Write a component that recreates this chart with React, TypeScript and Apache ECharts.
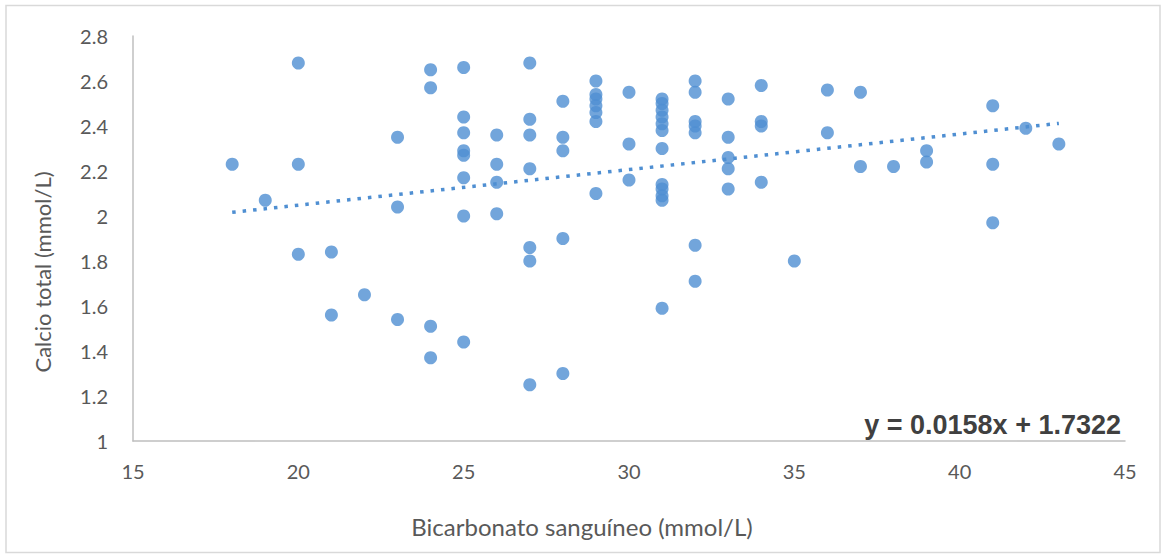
import React, { useEffect, useRef } from "react";
import * as echarts from "echarts";

// Bicarbonato sanguíneo (mmol/L) for each patient
const bicarbonate: number[] = [
  18, 19, 20, 20, 20, 21, 21, 22, 23, 23, 23,
  24, 24, 24, 24,
  25, 25, 25, 25, 25, 25, 25, 25,
  26, 26, 26, 26,
  27, 27, 27, 27, 27, 27, 27,
  28, 28, 28, 28, 28,
  29, 29, 29, 29, 29, 29, 29,
  30, 30, 30,
  31, 31, 31, 31, 31, 31, 31, 31, 31, 31, 31, 31,
  32, 32, 32, 32, 32, 32, 32,
  33, 33, 33, 33, 33,
  34, 34, 34, 34,
  35, 36, 36, 37, 37, 38, 39, 39,
  41, 41, 41, 42, 43,
];

// Calcio total (mmol/L) for each patient
const calcium: number[] = [
  2.23, 2.07, 2.68, 2.23, 1.83, 1.84, 1.56, 1.65, 2.35, 2.04, 1.54,
  2.65, 2.57, 1.51, 1.37,
  2.66, 2.44, 2.37, 2.29, 2.27, 2.17, 2.0, 1.44,
  2.36, 2.23, 2.15, 2.01,
  2.68, 2.43, 2.36, 2.21, 1.86, 1.8, 1.25,
  2.51, 2.35, 2.29, 1.9, 1.3,
  2.6, 2.54, 2.52, 2.49, 2.46, 2.42, 2.1,
  2.55, 2.32, 2.16,
  2.52, 2.5, 2.47, 2.44, 2.41, 2.38, 2.3, 2.14, 2.12, 2.09, 2.07, 1.59,
  2.6, 2.55, 2.42, 2.4, 2.37, 1.87, 1.71,
  2.52, 2.35, 2.26, 2.21, 2.12,
  2.58, 2.42, 2.4, 2.15,
  1.8, 2.56, 2.37, 2.55, 2.22, 2.22, 2.29, 2.24,
  2.49, 2.23, 1.97, 2.39, 2.32,
];

// Linear trend line shown on the chart
const trendSlope = 0.0158;
const trendIntercept = 1.7322;
const trendRange: number[] = [18, 43];
const trendLabel = "y = 0.0158x + 1.7322";

const xTitle = "Bicarbonato sanguíneo (mmol/L)";
const yTitle = "Calcio total (mmol/L)";

const BLUE = "#4f8fd2";
const GREY_TEXT = "#595959";

export default function App() {
  const ref = useRef<HTMLDivElement>(null);

  useEffect(() => {
    if (!ref.current) return;
    const chart = echarts.init(ref.current, null, { renderer: "svg" });

    const points = bicarbonate.map((x, i) => [x, calcium[i]]);
    const trend = trendRange.map((x) => [x, trendSlope * x + trendIntercept]);

    chart.setOption({
      animation: false,
      backgroundColor: "#ffffff",
      grid: {
        left: 133,
        right: 39,
        top: 36,
        bottom: 117,
        containLabel: false,
        outerBoundsMode: "none",
      },
      xAxis: {
        type: "value",
        min: 15,
        max: 45,
        interval: 5,
        axisLine: { show: true, lineStyle: { color: "#bfbfbf", width: 1.5 } },
        axisTick: { show: false },
        splitLine: { show: false },
        axisLabel: {
          color: GREY_TEXT,
          fontFamily: "Lato",
          fontSize: 20,
          margin: 20,
        },
      },
      yAxis: {
        type: "value",
        min: 1,
        max: 2.8,
        interval: 0.2,
        axisLine: { show: true, lineStyle: { color: "#bfbfbf", width: 1.5 } },
        axisTick: { show: false },
        splitLine: { show: false },
        axisLabel: {
          color: GREY_TEXT,
          fontFamily: "Lato",
          fontSize: 20,
          margin: 25,
          formatter: (v: number) => String(Math.round(v * 10) / 10),
        },
      },
      series: [
        {
          type: "scatter",
          data: points,
          symbol: "circle",
          symbolSize: 13,
          itemStyle: { color: BLUE },
          z: 3,
        },
        {
          type: "line",
          data: trend,
          symbol: "none",
          lineStyle: { color: BLUE, width: 3.5, type: [3.5, 7], cap: "butt" },
          z: 4,
        },
      ],
      graphic: [
        {
          type: "rect",
          shape: { x: 6, y: 5.5, width: 1154, height: 547 },
          style: { fill: "none", stroke: "#d9d9d9", lineWidth: 1.5 },
          silent: true,
          z: -1,
        },
        {
          type: "text",
          x: 1121,
          y: 425,
          style: {
            text: trendLabel,
            fill: "#404040",
            font: "bold 27px 'Liberation Sans', Arial, sans-serif",
            textAlign: "right",
            textVerticalAlign: "middle",
          },
        },
        {
          type: "text",
          x: 582,
          y: 526,
          style: {
            text: xTitle,
            fill: GREY_TEXT,
            font: "24px Lato",
            textAlign: "center",
            textVerticalAlign: "middle",
          },
        },
        {
          type: "text",
          x: 42,
          y: 272,
          rotation: Math.PI / 2,
          style: {
            text: yTitle,
            fill: GREY_TEXT,
            font: "22px Lato",
            textAlign: "center",
            textVerticalAlign: "middle",
          },
        },
      ],
    });

    return () => chart.dispose();
  }, []);

  return (
    <div
      ref={ref}
      style={{ position: "fixed", left: 0, top: 0, width: 1164, height: 558 }}
    />
  );
}
